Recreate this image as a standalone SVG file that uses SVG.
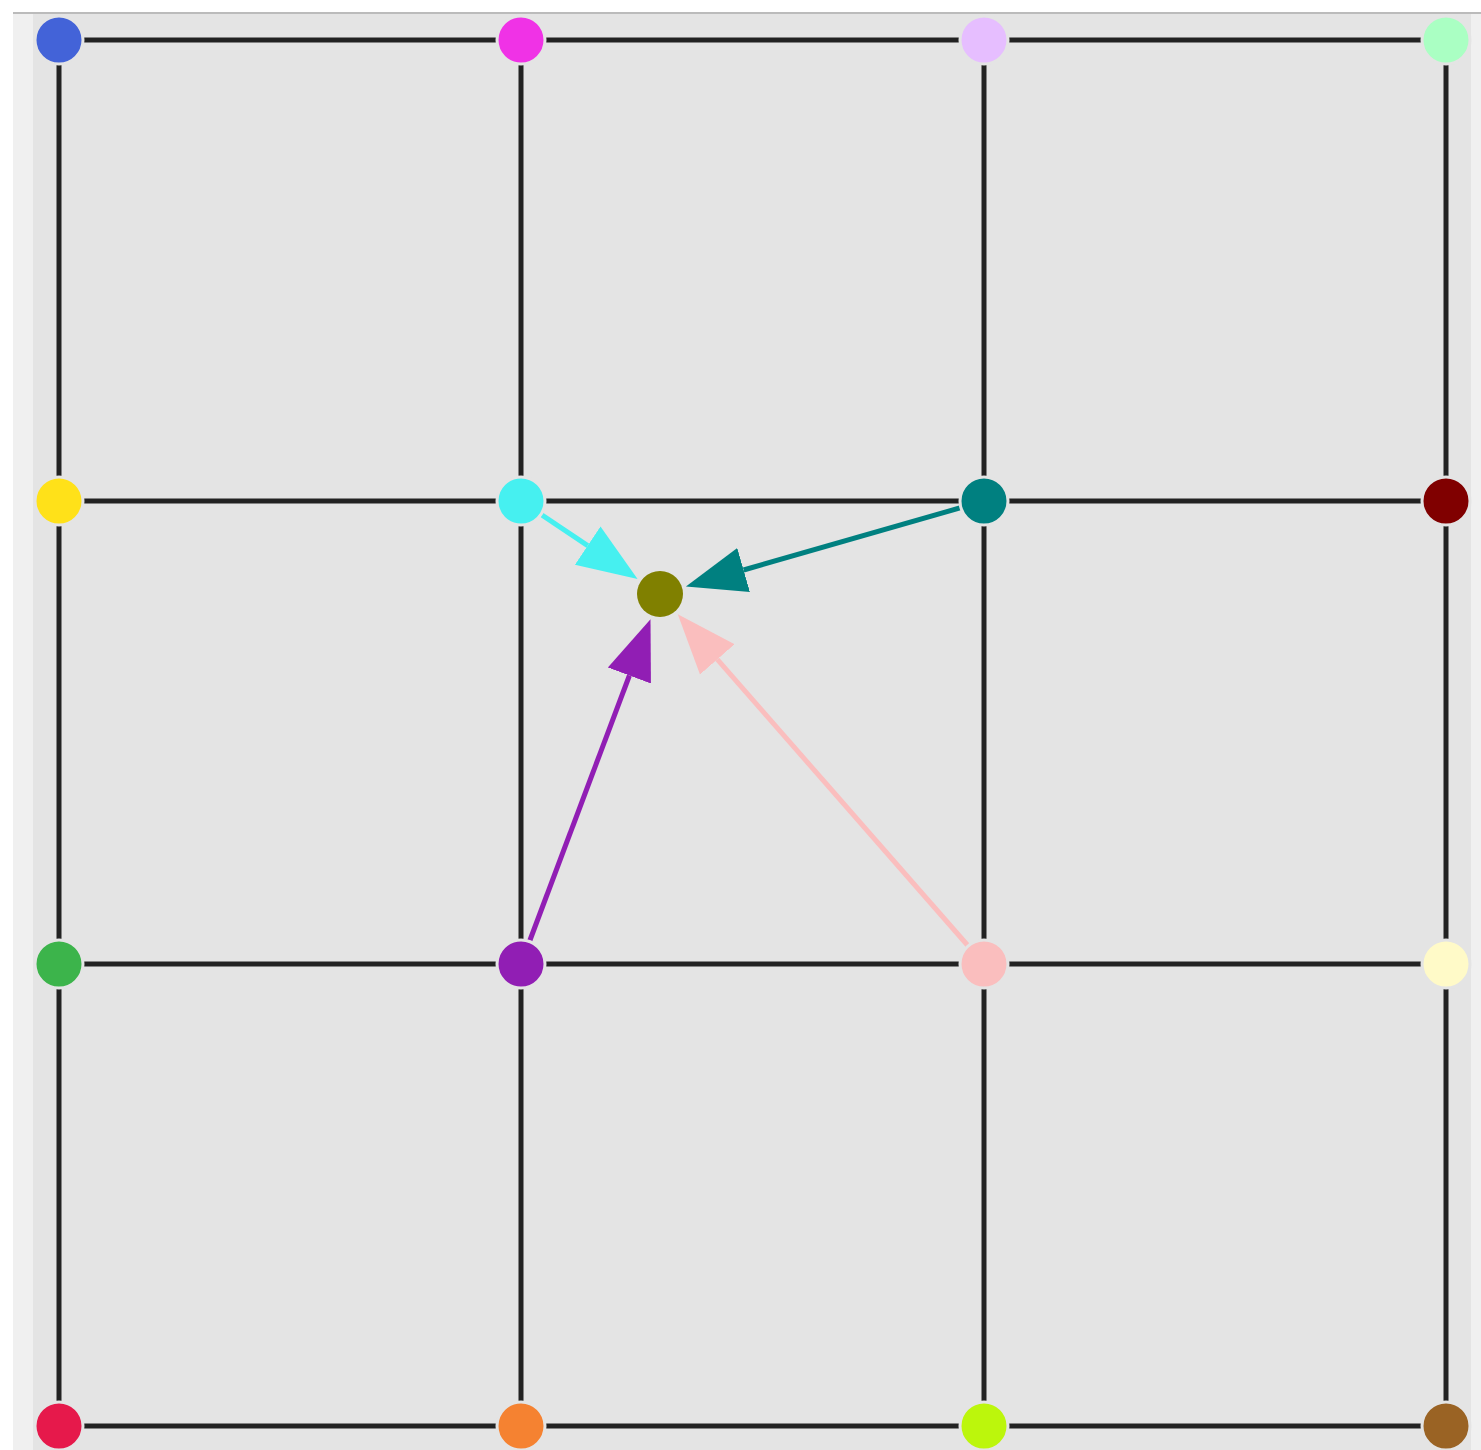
<svg xmlns="http://www.w3.org/2000/svg" width="1481" height="1450" viewBox="0 0 1481 1450">
<style>
.grid line{stroke:#222;stroke-width:5}
.node{stroke:#e4e4e4;stroke-width:3}
.arr{stroke-width:5;fill:none}
</style>
<defs>
<marker id="mCyan" markerUnits="userSpaceOnUse" markerWidth="62" markerHeight="48" refX="0" refY="24" orient="auto" viewBox="0 0 62 48"><path d="M0,1 L60,24 L0,47 Z" fill="#46f0f0"/></marker>
<marker id="mTeal" markerUnits="userSpaceOnUse" markerWidth="62" markerHeight="48" refX="0" refY="24" orient="auto" viewBox="0 0 62 48"><path d="M0,1 L60,24 L0,47 Z" fill="#008080"/></marker>
<marker id="mPurple" markerUnits="userSpaceOnUse" markerWidth="62" markerHeight="48" refX="0" refY="24" orient="auto" viewBox="0 0 62 48"><path d="M0,1 L60,24 L0,47 Z" fill="#911eb4"/></marker>
<marker id="mPink" markerUnits="userSpaceOnUse" markerWidth="62" markerHeight="48" refX="0" refY="24" orient="auto" viewBox="0 0 62 48"><path d="M0,1 L60,24 L0,47 Z" fill="#fabebe"/></marker>
</defs>
<rect x="0" y="0" width="1481" height="1450" fill="#ffffff"/>
<rect x="13" y="13" width="1468" height="1437" fill="#f0f0f0"/>
<rect x="33" y="14" width="1438" height="1436" fill="#e4e4e4"/>
<line x1="13" y1="13" x2="1481" y2="13" stroke="#bbbbbb" stroke-width="2"/>
<g id="connectors">
<g class="grid">
<line x1="59" y1="40" x2="1446" y2="40"/>
<line x1="59" y1="501" x2="1446" y2="501"/>
<line x1="59" y1="964" x2="1446" y2="964"/>
<line x1="59" y1="1426" x2="1446" y2="1426"/>
<line x1="59" y1="40" x2="59" y2="1426"/>
<line x1="521" y1="40" x2="521" y2="1426"/>
<line x1="984" y1="40" x2="984" y2="1426"/>
<line x1="1446" y1="40" x2="1446" y2="1426"/>
</g>
<line class="arr" x1="521" y1="501" x2="587.7" y2="545.6" stroke="#46f0f0" marker-end="url(#mCyan)"/>
<line class="arr" x1="984" y1="501" x2="743.6" y2="570.0" stroke="#008080" stroke-width="4" marker-end="url(#mTeal)"/>
<line class="arr" x1="521" y1="964" x2="629.4" y2="675.5" stroke="#911eb4" stroke-width="4" marker-end="url(#mPurple)"/>
<line class="arr" x1="984" y1="964" x2="717.3" y2="659.4" stroke="#fabebe" stroke-width="4" marker-end="url(#mPink)"/>
</g>
<g id="n00"><circle class="node" cx="59" cy="40" r="24" fill="#4363d8"/></g>
<g id="n01"><circle class="node" cx="521" cy="40" r="24" fill="#f032e6"/></g>
<g id="n02"><circle class="node" cx="984" cy="40" r="24" fill="#e6beff"/></g>
<g id="n03"><circle class="node" cx="1446" cy="40" r="24" fill="#aaffc3"/></g>
<g id="n10"><circle class="node" cx="59" cy="501" r="24" fill="#ffe119"/></g>
<g id="n11"><circle class="node" cx="521" cy="501" r="24" fill="#46f0f0"/></g>
<g id="n12"><circle class="node" cx="984" cy="501" r="24" fill="#008080"/></g>
<g id="n13"><circle class="node" cx="1446" cy="501" r="24" fill="#800000"/></g>
<g id="n20"><circle class="node" cx="59" cy="964" r="24" fill="#3cb44b"/></g>
<g id="n21"><circle class="node" cx="521" cy="964" r="24" fill="#911eb4"/></g>
<g id="n22"><circle class="node" cx="984" cy="964" r="24" fill="#fabebe"/></g>
<g id="n23"><circle class="node" cx="1446" cy="964" r="24" fill="#fffac8"/></g>
<g id="n30"><circle class="node" cx="59" cy="1426" r="24" fill="#e6194b"/></g>
<g id="n31"><circle class="node" cx="521" cy="1426" r="24" fill="#f58231"/></g>
<g id="n32"><circle class="node" cx="984" cy="1426" r="24" fill="#bcf60c"/></g>
<g id="n33"><circle class="node" cx="1446" cy="1426" r="24" fill="#9a6324"/></g>
<g id="center"><circle cx="660" cy="594" r="23" fill="#808000"/></g>
</svg>
